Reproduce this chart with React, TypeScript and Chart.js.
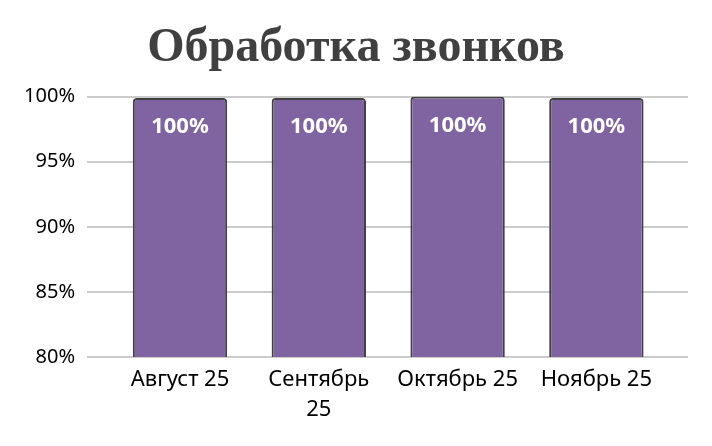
import { useEffect, useRef } from "react";
import { Chart, registerables } from "chart.js";

Chart.register(...registerables);

// months (wrapped lines as in the original), values in %
const categories: string[][] = [["Август 25"], ["Сентябрь", "25"], ["Октябрь 25"], ["Ноябрь 25"]];
const values = [99.9, 99.9, 100, 99.9];
const yTicks = [80, 85, 90, 95, 100];

const dataLabels = {
  id: "dataLabels",
  afterDatasetsDraw(chart: any) {
    const ctx = chart.ctx;
    const meta = chart.getDatasetMeta(0);
    ctx.save();
    ctx.fillStyle = "#ffffff";
    ctx.font = "bold 22px 'Noto Sans'";
    ctx.textAlign = "center";
    ctx.textBaseline = "middle";
    meta.data.forEach((bar: any, i: number) => {
      ctx.fillText(Math.round(values[i]) + "%", bar.x, bar.y + 29);
    });
    ctx.restore();
  },
};

const App = () => {
  const canvasRef = useRef<HTMLCanvasElement>(null);

  useEffect(() => {
    const config: any = {
      type: "bar",
      data: {
        datasets: [
          {
            data: values.map((v, i) => ({ x: i, y: v })),
            backgroundColor: "#8064a2",
            borderColor: "#404040",
            borderWidth: 2,
            borderSkipped: "bottom",
            borderRadius: { topLeft: 4, topRight: 4 },
            categoryPercentage: 1,
            barPercentage: 0.68,
          },
        ],
      },
      plugins: [dataLabels],
      options: {
        responsive: false,
        animation: false,
        layout: { padding: { left: 24, right: 24, top: 0, bottom: 0 } },
        plugins: {
          legend: { display: false },
          tooltip: { enabled: false },
          title: {
            display: true,
            text: "Обработка звонков",
            color: "#404040",
            font: { family: "'Liberation Serif'", size: 48, weight: "bold", lineHeight: 1.2 },
            padding: { top: 20, bottom: 19 },
          },
        },
        scales: {
          x: {
            type: "linear",
            min: -0.67,
            max: 3.66,
            offset: false,
            grid: { display: false, drawTicks: false },
            border: { display: false },
            afterBuildTicks: (scale: any) => {
              scale.ticks = categories.map((_, i) => ({ value: i }));
            },
            afterFit: (scale: any) => {
              scale.height = 89;
            },
            ticks: {
              autoSkip: false,
              maxRotation: 0,
              padding: 7,
              color: "#000000",
              font: { family: "'Noto Sans'", size: 22, lineHeight: 1.4 },
              callback: (v: number) => categories[v] ?? "",
            },
          },
          y: {
            min: yTicks[0],
            max: yTicks[yTicks.length - 1],
            afterBuildTicks: (scale: any) => {
              scale.ticks = yTicks.map((v) => ({ value: v }));
            },
            afterFit: (scale: any) => {
              scale.width = 63;
            },
            grid: { color: "#cccccc", lineWidth: 2, drawTicks: false },
            border: { display: false },
            ticks: {
              padding: 12,
              color: "#000000",
              font: { family: "'Noto Sans'", size: 20 },
              callback: (v: number) => v + "%",
            },
          },
        },
      },
    };
    const chart = new Chart(canvasRef.current as HTMLCanvasElement, config);
    return () => {
      chart.destroy();
    };
  }, []);

  return (
    <div style={{ position: "fixed", left: 0, top: 0, width: 712, height: 446, background: "#fff" }}>
      <canvas ref={canvasRef} width={712} height={446} />
    </div>
  );
};

export default App;
